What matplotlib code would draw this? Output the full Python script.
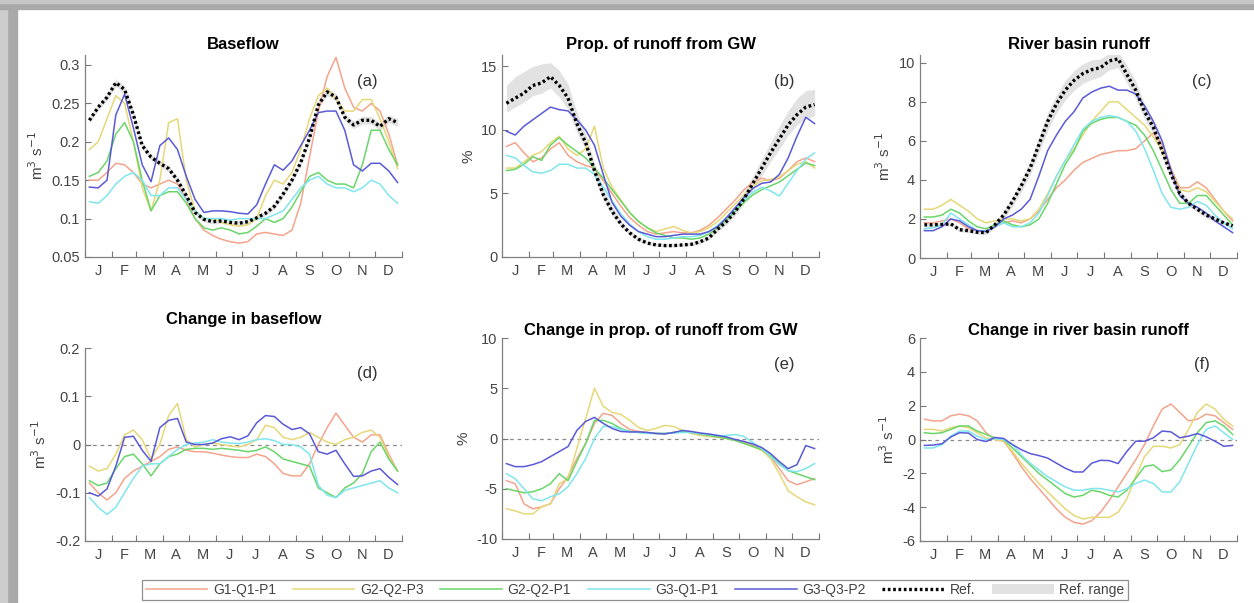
import numpy as np
import matplotlib
matplotlib.use("Agg")
import matplotlib.pyplot as plt
from matplotlib.lines import Line2D
from matplotlib.patches import Patch, Rectangle
from matplotlib.ticker import FuncFormatter

plt.rcParams['font.family'] = ['Liberation Sans', 'DejaVu Sans']

# 36 ten-day steps through the year
dekad = np.arange(36)
months = ['J', 'F', 'M', 'A', 'M', 'J', 'J', 'A', 'S', 'O', 'N', 'D']
scenarios = ['G1-Q1-P1', 'G2-Q2-P3', 'G2-Q2-P1', 'G3-Q1-P1', 'G3-Q3-P2']

# (a) baseflow, m3/s
bf_ref = [0.228, 0.245, 0.258, 0.277, 0.268, 0.235, 0.195, 0.18, 0.172, 0.165, 0.15, 0.13,
          0.108, 0.099, 0.096, 0.097, 0.095, 0.094, 0.096, 0.101, 0.107, 0.116, 0.132, 0.15,
          0.173, 0.205, 0.248, 0.265, 0.258, 0.232, 0.222, 0.228, 0.228, 0.22, 0.23, 0.225]
bf_g1q1p1 = [0.15, 0.15, 0.16, 0.172, 0.17, 0.16, 0.145, 0.14, 0.145, 0.15, 0.145, 0.125,
             0.1, 0.085, 0.078, 0.073, 0.07, 0.068, 0.07, 0.08, 0.082, 0.08, 0.078, 0.085,
             0.12, 0.18, 0.24, 0.285, 0.31, 0.27, 0.245, 0.24, 0.25, 0.24, 0.21, 0.17]
bf_g2q2p3 = [0.19, 0.2, 0.23, 0.26, 0.25, 0.2, 0.14, 0.11, 0.15, 0.225, 0.23, 0.15,
             0.11, 0.1, 0.1, 0.095, 0.092, 0.09, 0.092, 0.1, 0.13, 0.15, 0.145, 0.16,
             0.19, 0.23, 0.26, 0.27, 0.255, 0.24, 0.24, 0.255, 0.255, 0.23, 0.2, 0.165]
bf_g2q2p1 = [0.155, 0.16, 0.175, 0.21, 0.225, 0.2, 0.15, 0.11, 0.13, 0.135, 0.135, 0.12,
             0.1, 0.088, 0.085, 0.088, 0.085, 0.08, 0.082, 0.09, 0.1, 0.095, 0.1, 0.115,
             0.135, 0.155, 0.16, 0.15, 0.145, 0.145, 0.14, 0.17, 0.215, 0.215, 0.19, 0.17]
bf_g3q1p1 = [0.122, 0.12, 0.13, 0.145, 0.155, 0.16, 0.15, 0.13, 0.13, 0.14, 0.14, 0.125,
             0.11, 0.1, 0.1, 0.1, 0.098, 0.1, 0.1, 0.1, 0.1, 0.105, 0.11, 0.125,
             0.14, 0.15, 0.155, 0.145, 0.14, 0.14, 0.135, 0.14, 0.15, 0.145, 0.13, 0.12]
bf_g3q3p2 = [0.141, 0.14, 0.15, 0.235, 0.262, 0.218, 0.17, 0.148, 0.195, 0.205, 0.19, 0.155,
             0.125, 0.108, 0.11, 0.11, 0.109, 0.107, 0.106, 0.118, 0.145, 0.17, 0.163, 0.175,
             0.195, 0.215, 0.238, 0.24, 0.24, 0.215, 0.17, 0.162, 0.172, 0.172, 0.162, 0.147]
bf_ref_lo = [0.224, 0.241, 0.254, 0.272, 0.263, 0.23, 0.19, 0.176, 0.168, 0.161, 0.146, 0.126,
             0.105, 0.096, 0.093, 0.094, 0.092, 0.091, 0.093, 0.098, 0.104, 0.112, 0.128, 0.146,
             0.169, 0.2, 0.243, 0.26, 0.253, 0.227, 0.217, 0.223, 0.223, 0.215, 0.225, 0.22]
bf_ref_hi = [0.232, 0.249, 0.262, 0.282, 0.273, 0.24, 0.2, 0.184, 0.176, 0.169, 0.154, 0.134,
             0.111, 0.102, 0.099, 0.1, 0.098, 0.097, 0.099, 0.104, 0.11, 0.12, 0.136, 0.154,
             0.177, 0.21, 0.253, 0.27, 0.263, 0.237, 0.227, 0.233, 0.233, 0.225, 0.235, 0.23]

# (b) proportion of runoff from groundwater, %
gw_ref = [12.1, 12.5, 12.9, 13.5, 13.7, 14.2, 13.5, 12.5, 10.5, 9.0, 6.8, 4.9,
          3.6, 2.6, 1.9, 1.4, 1.1, 0.95, 0.9, 0.9, 0.95, 1.0, 1.2, 1.5,
          2.2, 2.8, 3.6, 4.6, 5.8, 7.0, 8.2, 9.3, 10.4, 11.2, 11.8, 12.0]
gw_g1q1p1 = [8.7, 9.0, 8.2, 7.5, 7.8, 8.5, 9.0, 8.0, 7.5, 7.2, 7.0, 6.0,
             5.0, 4.0, 3.1, 2.5, 2.0, 1.8, 1.9, 2.0, 1.9, 1.9, 2.1, 2.5,
             3.1, 3.8, 4.5, 5.3, 5.9, 6.2, 6.0, 6.2, 6.8, 7.5, 7.8, 7.5]
gw_g2q2p3 = [7.0, 7.0, 7.5, 8.0, 8.3, 9.0, 9.5, 8.5, 8.0, 8.5, 10.3, 7.0,
             5.5, 4.5, 3.5, 2.8, 2.3, 2.0, 2.2, 2.4, 2.1, 1.9, 2.0, 2.3,
             2.8, 3.5, 4.2, 4.9, 5.6, 6.0, 6.1, 6.3, 6.8, 7.3, 7.5, 7.0]
gw_g2q2p1 = [6.8, 6.9, 7.3, 7.9, 7.6, 8.8, 9.4, 8.8, 8.3, 7.8, 7.0, 6.2,
             5.3, 4.4, 3.5, 2.8, 2.3, 1.9, 1.7, 1.5, 1.5, 1.4, 1.5, 1.8,
             2.3, 2.9, 3.6, 4.3, 4.9, 5.3, 5.6, 5.9, 6.4, 6.9, 7.4, 7.2]
gw_g3q1p1 = [8.0, 7.8, 7.2, 6.7, 6.6, 6.8, 7.3, 7.3, 7.0, 7.0, 6.5, 5.5,
             4.4, 3.4, 2.6, 2.0, 1.6, 1.4, 1.4, 1.5, 1.6, 1.6, 1.7, 2.0,
             2.5, 3.1, 3.8, 4.5, 5.1, 5.5, 5.2, 4.8, 5.8, 6.8, 7.7, 8.2]
gw_g3q3p2 = [9.9, 9.6, 10.3, 10.8, 11.3, 11.8, 11.6, 11.5, 10.8, 10.0, 8.8, 6.5,
             4.3, 3.2, 2.5, 2.0, 1.8, 1.6, 1.6, 1.7, 1.8, 1.8, 1.8, 2.0,
             2.4, 3.1, 3.9, 4.7, 5.4, 5.8, 5.9, 6.5, 7.8, 9.5, 11.0, 10.5]
gw_ref_lo = [11.4, 11.8, 12.2, 12.7, 12.9, 13.3, 12.6, 11.6, 9.8, 8.4, 6.3, 4.5,
             3.3, 2.4, 1.75, 1.25, 1.0, 0.85, 0.8, 0.8, 0.85, 0.9, 1.05, 1.35,
             2.0, 2.55, 3.3, 4.2, 5.3, 6.4, 7.5, 8.5, 9.6, 10.4, 10.9, 11.1]
gw_ref_hi = [13.5, 14.2, 14.6, 15.0, 15.2, 15.3, 14.7, 13.6, 11.4, 9.7, 7.4, 5.4,
             4.0, 2.9, 2.1, 1.6, 1.25, 1.1, 1.05, 1.05, 1.1, 1.15, 1.4, 1.7,
             2.5, 3.1, 4.0, 5.1, 6.4, 7.7, 9.0, 10.3, 11.5, 12.5, 13.1, 13.2]

# (c) river basin runoff, m3/s
rr_ref = [1.7, 1.7, 1.72, 1.75, 1.45, 1.4, 1.32, 1.3, 1.7, 2.2, 2.9, 3.7,
          4.6, 5.8, 7.0, 7.9, 8.6, 9.1, 9.45, 9.65, 9.75, 10.1, 10.2, 9.4,
          8.6, 7.5, 6.7, 5.5, 4.3, 3.3, 2.8, 2.5, 2.2, 2.0, 1.8, 1.65]
rr_g1q1p1 = [1.8, 1.8, 1.9, 2.0, 1.8, 1.5, 1.4, 1.4, 1.6, 1.8, 1.9, 1.8,
             2.0, 2.4, 3.0, 3.6, 4.0, 4.5, 4.9, 5.1, 5.3, 5.4, 5.5, 5.5,
             5.6, 6.0, 6.4, 5.8, 4.6, 3.6, 3.6, 3.9, 3.6, 3.0, 2.4, 1.9]
rr_g2q2p3 = [2.5, 2.5, 2.7, 3.0, 2.7, 2.4, 2.0, 1.8, 1.9, 2.0, 2.0, 1.9,
             2.0, 2.5, 3.3, 4.2, 5.0, 5.6, 6.3, 7.0, 7.5, 8.0, 8.0, 7.6,
             7.2, 6.8, 6.2, 5.5, 4.5, 3.5, 3.4, 3.6, 3.4, 2.9, 2.4, 2.0]
rr_g2q2p1 = [2.1, 2.1, 2.2, 2.5, 2.3, 1.9, 1.6, 1.5, 1.7, 1.9, 1.7, 1.6,
             1.7, 2.0, 2.8, 3.8, 4.8, 5.5, 6.5, 6.9, 7.1, 7.2, 7.2, 7.0,
             6.8, 6.3, 5.5, 4.5, 3.5, 2.8, 2.8, 3.2, 3.2, 2.7, 2.2, 1.7]
rr_g3q1p1 = [1.5, 1.55, 1.7, 2.3, 2.0, 1.7, 1.4, 1.4, 1.6, 1.8, 1.6, 1.6,
             1.8, 2.3, 3.2, 4.2, 5.0, 5.8, 6.6, 7.0, 7.2, 7.3, 7.2, 7.0,
             6.5, 5.6, 4.5, 3.3, 2.6, 2.5, 2.6, 2.9, 2.7, 2.2, 1.8, 1.5]
rr_g3q3p2 = [1.4, 1.4, 1.6, 2.0, 1.9, 1.6, 1.4, 1.35, 1.6, 2.0, 2.2, 2.5,
             3.0, 4.2, 5.5, 6.3, 7.0, 7.5, 8.2, 8.5, 8.7, 8.8, 8.6, 8.6,
             8.4, 7.8, 7.0, 6.0, 4.5, 3.2, 2.8, 2.6, 2.3, 1.9, 1.6, 1.3]
rr_ref_lo = [1.6, 1.6, 1.62, 1.65, 1.35, 1.3, 1.22, 1.2, 1.55, 2.0, 2.65, 3.4,
             4.25, 5.4, 6.55, 7.45, 8.1, 8.6, 8.95, 9.15, 9.3, 9.65, 9.75, 8.95,
             8.15, 7.1, 6.35, 5.2, 4.05, 3.1, 2.65, 2.35, 2.05, 1.85, 1.7, 1.55]
rr_ref_hi = [1.8, 1.8, 1.82, 1.85, 1.55, 1.5, 1.42, 1.4, 1.85, 2.4, 3.15, 4.0,
             4.95, 6.2, 7.45, 8.35, 9.1, 9.6, 9.95, 10.15, 10.2, 10.5, 10.6, 9.85,
             9.05, 7.9, 7.05, 5.8, 4.55, 3.5, 2.95, 2.65, 2.35, 2.15, 1.9, 1.75]

# (d) change in baseflow, m3/s
dbf_g1q1p1 = [-0.08, -0.1, -0.115, -0.1, -0.07, -0.055, -0.045, -0.035, -0.025, -0.01, -0.005, -0.012,
              -0.015, -0.015, -0.018, -0.022, -0.025, -0.027, -0.027, -0.02, -0.025, -0.04, -0.06, -0.065,
              -0.065, -0.04, 0.0, 0.035, 0.065, 0.04, 0.015, 0.005, 0.02, 0.02, -0.02, -0.055]
dbf_g2q2p3 = [-0.045, -0.055, -0.05, -0.02, 0.02, 0.03, 0.01, -0.03, 0.0, 0.06, 0.085, 0.01,
              -0.005, 0.0, 0.003, 0.0, -0.003, -0.005, 0.0, 0.01, 0.04, 0.035, 0.015, 0.01,
              0.015, 0.025, 0.015, 0.005, 0.0, 0.01, 0.015, 0.025, 0.03, 0.015, -0.025, -0.055]
dbf_g2q2p1 = [-0.075, -0.085, -0.08, -0.05, -0.025, -0.02, -0.04, -0.065, -0.04, -0.025, -0.02, -0.01,
              -0.008, -0.008, -0.01, -0.008, -0.01, -0.012, -0.015, -0.012, -0.005, -0.015, -0.03, -0.035,
              -0.04, -0.045, -0.09, -0.1, -0.11, -0.09, -0.08, -0.06, -0.015, 0.005, -0.03, -0.055]
dbf_g3q1p1 = [-0.11, -0.13, -0.145, -0.13, -0.1, -0.07, -0.045, -0.04, -0.04, -0.025, -0.01, 0.0,
              0.003, 0.005, 0.01, 0.005, 0.003, 0.002, 0.005, 0.01, 0.012, 0.008, 0.0, 0.0,
              -0.005, -0.02, -0.085, -0.105, -0.11, -0.095, -0.09, -0.085, -0.08, -0.075, -0.09, -0.1]
dbf_g3q3p2 = [-0.1, -0.107, -0.092, -0.045, 0.015, 0.017, -0.012, -0.035, 0.035, 0.05, 0.054, 0.005,
              0.0, 0.0, 0.003, 0.012, 0.016, 0.01, 0.018, 0.045, 0.06, 0.058, 0.042, 0.031,
              0.035, 0.022, -0.015, -0.02, -0.012, -0.04, -0.066, -0.065, -0.055, -0.05, -0.068, -0.083]

# (e) change in proportion of runoff from groundwater, %
dgw_g1q1p1 = [-4.2, -4.5, -6.5, -7.0, -6.8, -6.5, -5.0, -3.8, -2.0, -0.5, 1.5, 2.5,
              2.3, 1.5, 0.9, 0.7, 0.6, 0.5, 0.5, 0.6, 0.7, 0.6, 0.45, 0.35,
              0.2, 0.05, -0.2, -0.4, -0.7, -1.0, -1.8, -3.0, -4.2, -4.6, -4.3, -4.0]
dgw_g2q2p3 = [-7.0, -7.2, -7.5, -7.5, -6.8, -6.5, -4.5, -4.0, -1.0, 2.0, 5.0, 3.2,
              2.6, 2.4, 1.8, 1.1, 0.8, 1.0, 1.3, 1.2, 0.8, 0.5, 0.3, 0.2,
              0.1, 0.0, -0.2, -0.5, -0.8, -1.2, -2.0, -3.5, -5.2, -5.8, -6.3, -6.6]
dgw_g2q2p1 = [-5.0, -5.2, -5.4, -5.3, -5.0, -4.5, -3.5, -4.2, -2.3, -0.5, 1.8, 1.8,
              1.5, 1.0, 0.7, 0.6, 0.55, 0.5, 0.5, 0.6, 0.7, 0.6, 0.45, 0.3,
              0.15, 0.0, -0.2, -0.5, -0.8, -1.1, -1.7, -2.5, -3.2, -3.5, -3.8, -4.1]
dgw_g3q1p1 = [-3.5, -4.0, -5.0, -6.0, -6.2, -5.8, -5.5, -4.8, -3.5, -2.0, 0.0, 1.2,
              1.2, 0.9, 0.7, 0.6, 0.5, 0.5, 0.5, 0.55, 0.6, 0.6, 0.5, 0.4,
              0.3, 0.3, 0.4, 0.2, -0.4, -1.0, -1.8, -2.6, -3.2, -3.3, -3.0, -2.5]
dgw_g3q3p2 = [-2.5, -2.8, -2.8, -2.6, -2.3, -1.8, -1.3, -0.8, 0.8, 1.7, 2.1, 1.5,
              1.0, 0.7, 0.65, 0.66, 0.6, 0.5, 0.45, 0.6, 0.8, 0.7, 0.55, 0.45,
              0.3, 0.15, -0.1, -0.3, -0.55, -0.9, -1.5, -2.3, -3.0, -2.6, -0.7, -1.0]

# (f) change in river basin runoff, m3/s
drr_g1q1p1 = [1.2, 1.1, 1.1, 1.4, 1.5, 1.4, 1.1, 0.4, 0.0, -0.1, -0.8, -1.6,
              -2.3, -2.9, -3.5, -4.1, -4.6, -4.9, -5.0, -4.8, -4.3, -3.6, -2.8, -2.0,
              -1.2, -0.3, 0.8, 1.8, 2.1, 1.6, 1.1, 1.2, 1.5, 1.4, 1.0, 0.6]
drr_g2q2p3 = [0.6, 0.6, 0.5, 0.7, 0.8, 0.7, 0.4, 0.1, 0.0, -0.1, -0.7, -1.4,
              -2.0, -2.6, -3.1, -3.6, -4.1, -4.5, -4.7, -4.6, -4.6, -4.6, -4.3, -3.5,
              -2.2, -1.0, -0.4, -0.4, -0.5, -0.3, 0.6, 1.6, 2.1, 1.8, 1.2, 0.8]
drr_g2q2p1 = [0.4, 0.35, 0.4, 0.6, 0.8, 0.8, 0.5, 0.3, 0.1, 0.0, -0.5, -1.0,
              -1.5, -2.0, -2.4, -2.8, -3.2, -3.4, -3.3, -3.0, -3.1, -3.3, -3.4, -3.0,
              -2.3, -1.6, -1.5, -1.9, -1.8, -1.2, -0.4, 0.4, 1.0, 1.1, 0.8, 0.3]
drr_g3q1p1 = [-0.5, -0.5, -0.3, 0.2, 0.5, 0.5, 0.2, 0.0, 0.05, 0.0, -0.3, -0.9,
              -1.4, -1.8, -2.2, -2.5, -2.8, -3.0, -3.0, -2.9, -2.9, -3.0, -3.1, -2.9,
              -2.6, -2.4, -2.6, -3.1, -3.1, -2.5, -1.4, -0.3, 0.6, 0.8, 0.4, 0.0]
drr_g3q3p2 = [-0.35, -0.33, -0.25, 0.15, 0.4, 0.38, 0.0, -0.12, 0.12, 0.06, -0.3, -0.6,
              -0.83, -0.95, -1.1, -1.4, -1.7, -1.92, -1.92, -1.4, -1.23, -1.25, -1.42, -0.7,
              -0.1, -0.1, 0.1, 0.5, 0.45, 0.1, 0.2, 0.35, 0.16, -0.1, -0.4, -0.35]

colors = ['#f4a48c', '#e6d878', '#6ad66a', '#80e6ee', '#5a5ad8']

W, H = 1254, 603
fig = plt.figure(figsize=(W / 100, H / 100), dpi=100)

# grey frame on the left and top edges
fig.patches.append(Rectangle((0, 0), 17 / W, 1, transform=fig.transFigure, color='#a9a9a9', zorder=0))
fig.patches.append(Rectangle((0, 0), 7 / W, 1, transform=fig.transFigure, color='#cdcdcd', zorder=0))
fig.patches.append(Rectangle((0, 1 - 9 / H), 1, 9 / H, transform=fig.transFigure, color='#a9a9a9', zorder=0))
fig.patches.append(Rectangle((0, 1 - 3 / H), 1, 3 / H, transform=fig.transFigure, color='#c6c6c6', zorder=0))


def box(left, top, bottom):
    return [left / W, (H - bottom) / H, 317 / W, (bottom - top) / H]


month_edges = [0, 31, 59, 90, 120, 151, 181, 212, 243, 273, 304, 334, 365]
month_mid = [(month_edges[i] + month_edges[i + 1]) / 2 for i in range(12)]
x = (dekad + 0.5) * 365 / 36

panels = [
    ('Baseflow', '(a)', 'm$^3$ s$^{-1}$', box(85, 55, 257), (0.05, 0.313), [0.05, 0.1, 0.15, 0.2, 0.25, 0.3],
     [bf_g1q1p1, bf_g2q2p3, bf_g2q2p1, bf_g3q1p1, bf_g3q3p2], bf_ref, bf_ref_lo, bf_ref_hi, 4),
    ('Prop. of runoff from GW', '(b)', '%', box(502, 55, 257), (0, 15.9), [0, 5, 10, 15],
     [gw_g1q1p1, gw_g2q2p3, gw_g2q2p1, gw_g3q1p1, gw_g3q3p2], gw_ref, gw_ref_lo, gw_ref_hi, 4),
    ('River basin runoff', '(c)', 'm$^3$ s$^{-1}$', box(920, 55, 258), (0, 10.4), [0, 2, 4, 6, 8, 10],
     [rr_g1q1p1, rr_g2q2p3, rr_g2q2p1, rr_g3q1p1, rr_g3q3p2], rr_ref, rr_ref_lo, rr_ref_hi, 4),
    ('Change in baseflow', '(d)', 'm$^3$ s$^{-1}$', box(85, 348, 541), (-0.2, 0.2), [-0.2, -0.1, 0, 0.1, 0.2],
     [dbf_g1q1p1, dbf_g2q2p3, dbf_g2q2p1, dbf_g3q1p1, dbf_g3q3p2], None, None, None, 17),
    ('Change in prop. of runoff from GW', '(e)', '%', box(502, 338, 539), (-10, 10), [-10, -5, 0, 5, 10],
     [dgw_g1q1p1, dgw_g2q2p3, dgw_g2q2p1, dgw_g3q1p1, dgw_g3q3p2], None, None, None, 2),
    ('Change in river basin runoff', '(f)', 'm$^3$ s$^{-1}$', box(920, 338, 541), (-6, 6), [-6, -4, -2, 0, 2, 4, 6],
     [drr_g1q1p1, drr_g2q2p3, drr_g2q2p1, drr_g3q1p1, drr_g3q3p2], None, None, None, 2),
]

for i, (title, tag, ylab, pos, ylim, yticks, series, ref, lo, hi, tpad) in enumerate(panels):
    ax = fig.add_axes(pos)
    if ref is not None:
        ax.fill_between(x, lo, hi, color='#e2e2e2', lw=0, zorder=1)
    else:
        ax.axhline(0, color='#8a8a8a', ls=(0, (3, 3)), lw=0.9, zorder=1)
    for s, c in zip(series, colors):
        ax.plot(x, s, color=c, lw=1.1, zorder=2)
    if ref is not None:
        ax.plot(x, ref, color='black', ls=(0, (0.8, 0.8)), lw=2.4, zorder=3)
    ax.set_xlim(0, 365)
    ax.set_ylim(*ylim)
    ax.set_yticks(yticks)
    ax.yaxis.set_major_formatter(FuncFormatter(lambda v, p: '%g' % v))
    ax.set_xticks(month_edges)
    ax.set_xticklabels([])
    ax.set_xticks(month_mid, minor=True)
    ax.set_xticklabels(months, minor=True)
    ax.tick_params(axis='x', which='major', direction='in', length=4, color='#777777')
    ax.tick_params(axis='x', which='minor', length=0, pad=5, labelsize=10.5, labelcolor='#444444')
    ax.tick_params(axis='y', direction='in', length=4, color='#777777', labelsize=10.5, labelcolor='#444444')
    for side in ['top', 'right']:
        ax.spines[side].set_visible(False)
    for side in ['left', 'bottom']:
        ax.spines[side].set_color('#808080')
        ax.spines[side].set_linewidth(0.9)
    ax.set_ylabel(ylab, fontsize=11, color='#444444')
    ax.set_title(title, fontsize=12, fontweight='bold', pad=tpad)
    ax.text(0.89, 0.87, tag, transform=ax.transAxes, ha='center', va='center', fontsize=12, color='#333333')

handles = [Line2D([], [], color=c, lw=1.1) for c in colors]
handles.append(Line2D([], [], color='black', ls=(0, (0.8, 0.8)), lw=2.4))
handles.append(Patch(facecolor='#e2e2e2', edgecolor='none'))
leg = fig.legend(handles, scenarios + ['Ref.', 'Ref. range'], loc='center',
                 bbox_to_anchor=(635 / W, (H - 590) / H), ncol=7, fontsize=10,
                 handlelength=4.45, handletextpad=0.4, columnspacing=1.2,
                 borderpad=0.25, fancybox=False, framealpha=1)
leg.get_frame().set_edgecolor('#909090')
leg.get_frame().set_linewidth(0.9)
for t in leg.get_texts():
    t.set_color('#444444')

fig.savefig('out.png', dpi=100)
